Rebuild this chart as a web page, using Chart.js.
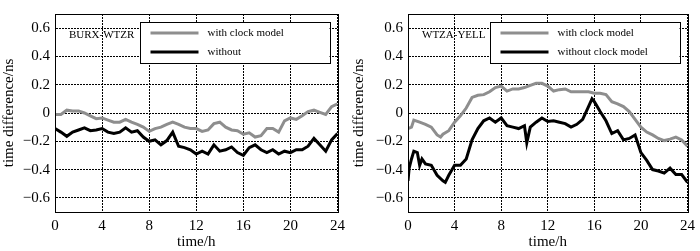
<!DOCTYPE html>
<html>
<head>
<meta charset="utf-8">
<script src="https://cdn.jsdelivr.net/npm/chart.js@4.4.1/dist/chart.umd.min.js"></script>
<style>
  html, body { margin: 0; padding: 0; background: #fff; }
  #wrap { display: flex; width: 700px; height: 251px; }
  .panel { position: relative; width: 350px; height: 251px; }
</style>
</head>
<body>
<div id="wrap">
  <div class="panel"><canvas id="left" width="350" height="251"></canvas></div>
  <div class="panel"><canvas id="right" width="350" height="251"></canvas></div>
</div>
<script>
// ---- data (hours, ns) ----
const burxTimes = [0,0.5,1,1.5,2,2.5,3,3.5,4,4.5,5,5.5,6,6.5,7,7.5,8,8.5,9,9.5,10,10.5,11,11.5,12,
  12.5,13,13.5,14,14.5,15,15.5,16,16.5,17,17.5,18,18.5,19,19.5,20,20.5,21,21.5,22,22.5,23,23.5,24];
const burxWith = [-0.01,-0.01,0.02,0.015,0.015,0.0,-0.02,-0.04,-0.035,-0.05,-0.065,-0.065,-0.045,-0.065,
  -0.08,-0.1,-0.13,-0.11,-0.1,-0.08,-0.065,-0.08,-0.1,-0.11,-0.11,-0.13,-0.12,-0.075,-0.065,-0.1,-0.12,
  -0.125,-0.15,-0.14,-0.17,-0.16,-0.11,-0.11,-0.135,-0.055,-0.035,-0.045,-0.02,0.01,0.02,0.005,-0.01,0.045,0.065];
const burxWithout = [-0.11,-0.135,-0.165,-0.135,-0.12,-0.105,-0.125,-0.12,-0.11,-0.135,-0.145,-0.135,-0.105,
  -0.135,-0.125,-0.17,-0.2,-0.19,-0.225,-0.195,-0.135,-0.235,-0.245,-0.26,-0.29,-0.27,-0.29,-0.225,-0.27,
  -0.26,-0.24,-0.28,-0.3,-0.245,-0.225,-0.26,-0.28,-0.26,-0.29,-0.27,-0.28,-0.26,-0.26,-0.235,-0.18,-0.225,
  -0.27,-0.19,-0.145];

const wtzaWithTimes = [0,0.3,0.5,1,1.5,2,2.5,2.8,3,3.5,4,4.5,5,5.5,6,6.5,7,7.5,8,8.5,9,9.5,10,10.5,11,11.5,
  12,12.5,13,13.5,14,14.5,15,15.5,16,16.5,17,17.5,18,18.5,19,19.5,20,20.5,21,21.5,22,22.5,23,23.5,24];
const wtzaWith = [-0.11,-0.1,-0.05,-0.065,-0.08,-0.1,-0.155,-0.17,-0.15,-0.125,-0.065,-0.02,0.035,0.11,0.125,
  0.13,0.15,0.18,0.19,0.155,0.17,0.17,0.18,0.195,0.21,0.21,0.19,0.155,0.165,0.17,0.15,0.15,0.15,0.15,0.14,
  0.14,0.13,0.08,0.065,0.045,0.01,-0.045,-0.1,-0.135,-0.155,-0.18,-0.195,-0.185,-0.17,-0.19,-0.235];
const wtzaWithoutTimes = [0,0.1,0.3,0.5,0.8,1,1.2,1.5,2,2.5,3,3.2,3.5,4,4.5,5,5.5,6,6.5,7,7.5,8,8.5,9,9.5,
  10,10.2,10.5,11,11.5,12,12.5,13,13.5,14,14.5,15,15.5,15.8,16,16.5,17,17.5,18,18.5,19,19.5,20,20.5,21,
  21.5,22,22.5,23,23.5,24];
const wtzaWithout = [-0.48,-0.39,-0.325,-0.27,-0.28,-0.37,-0.325,-0.36,-0.37,-0.44,-0.48,-0.49,-0.44,-0.37,
  -0.37,-0.325,-0.19,-0.11,-0.055,-0.035,-0.065,-0.035,-0.09,-0.1,-0.11,-0.09,-0.21,-0.1,-0.065,-0.035,
  -0.06,-0.055,-0.065,-0.075,-0.1,-0.08,-0.045,0.045,0.1,0.08,0.01,-0.055,-0.145,-0.125,-0.19,-0.18,-0.155,
  -0.28,-0.335,-0.4,-0.41,-0.425,-0.39,-0.435,-0.435,-0.49];

const yTickValues = [-0.6,-0.4,-0.2,0,0.2,0.4,0.6];
const xTickValues = [0,4,8,12,16,20,24];

const GRAY = '#8e8e8e';
const FONT = "'Liberation Serif', 'Times New Roman', serif";

function toPoints(xs, ys) {
  return xs.map((x, i) => ({ x: x, y: ys[i] }));
}

function fmtTick(v) {
  if (Math.abs(v) < 1e-9) return '0';
  return (v < 0 ? '\u2212' : '') + Math.abs(v).toFixed(1);
}

// frame, boxed legend and station label
const panelDecor = {
  id: 'panelDecor',
  afterDatasetsDraw(chart, args, opts) {
    const ctx = chart.ctx;
    const a = chart.chartArea;
    ctx.save();
    // station name
    ctx.font = '11px ' + FONT;
    ctx.fillStyle = '#000';
    ctx.textBaseline = 'middle';
    ctx.textAlign = 'left';
    ctx.fillText(opts.station, a.left + 14, a.top + 21);
    // legend box
    const bw = 190, bh = 41;
    const bx = a.right - 8 - bw, by = a.top + 8;
    ctx.fillStyle = '#fff';
    ctx.fillRect(bx, by, bw, bh);
    ctx.strokeStyle = '#000';
    ctx.lineWidth = 1;
    ctx.strokeRect(Math.round(bx) + 0.5, Math.round(by) + 0.5, bw, bh);
    chart.data.datasets.forEach((ds, i) => {
      const ly = by + 11 + i * 19;
      ctx.strokeStyle = ds.borderColor;
      ctx.lineWidth = 3;
      ctx.beginPath();
      ctx.moveTo(bx + 11, ly);
      ctx.lineTo(bx + 59, ly);
      ctx.stroke();
      ctx.fillStyle = '#000';
      ctx.fillText(ds.label, bx + 68, ly);
    });
    ctx.restore();
  },
  afterDraw(chart) {
    const ctx = chart.ctx;
    const a = chart.chartArea;
    ctx.save();
    ctx.strokeStyle = '#000';
    ctx.lineWidth = 1;
    ctx.strokeRect(Math.round(a.left) + 0.5, Math.round(a.top) + 0.5,
      Math.round(a.right - a.left), Math.round(a.bottom - a.top));
    ctx.restore();
  }
};

function makePanel(canvasId, station, series, yAxisWidth, rightPad) {
  const ctx = document.getElementById(canvasId).getContext('2d');
  return new Chart(ctx, {
    type: 'line',
    data: {
      datasets: series.map(s => ({
        label: s.label,
        data: s.data,
        borderColor: s.color,
        borderWidth: 3,
        pointRadius: 0,
        tension: 0,
        fill: false
      }))
    },
    options: {
      responsive: false,
      animation: false,
      layout: { padding: { top: 4, right: rightPad, left: 0, bottom: 0 } },
      plugins: {
        legend: { display: false },
        tooltip: { enabled: false },
        panelDecor: { station: station }
      },
      scales: {
        x: {
          type: 'linear',
          min: 0,
          max: 24,
          afterBuildTicks: scale => { scale.ticks = xTickValues.map(v => ({ value: v })); },
          afterFit: scale => { scale.height = 39; },
          grid: { color: '#000', lineWidth: 1, drawTicks: false },
          border: { display: true, color: '#000', dash: [2, 1] },
          ticks: { color: '#000', padding: 5, font: { family: FONT, size: 15 }, maxRotation: 0 },
          title: { display: true, text: 'time/h', color: '#000', padding: { top: 0, bottom: 0 },
                   font: { family: FONT, size: 15 } }
        },
        y: {
          min: -0.7,
          max: 0.7,
          afterBuildTicks: scale => { scale.ticks = yTickValues.map(v => ({ value: v })); },
          afterFit: scale => { scale.width = yAxisWidth; },
          grid: { color: '#000', lineWidth: 1, drawTicks: false },
          border: { display: true, color: '#000', dash: [2, 1] },
          ticks: { color: '#000', padding: 5, font: { family: FONT, size: 15 }, callback: v => fmtTick(v) },
          title: { display: true, text: 'time difference/ns', color: '#000', padding: { top: 0, bottom: 0 },
                   font: { family: FONT, size: 15 } }
        }
      }
    },
    plugins: [panelDecor]
  });
}

makePanel('left', 'BURX-WTZR', [
  { label: 'with clock model', data: toPoints(burxTimes, burxWith), color: GRAY },
  { label: 'without', data: toPoints(burxTimes, burxWithout), color: '#000' }
], 55, 9);

makePanel('right', 'WTZA-YELL', [
  { label: 'with clock model', data: toPoints(wtzaWithTimes, wtzaWith), color: GRAY },
  { label: 'without clock model', data: toPoints(wtzaWithoutTimes, wtzaWithout), color: '#000' }
], 58, 6);
</script>
</body>
</html>
